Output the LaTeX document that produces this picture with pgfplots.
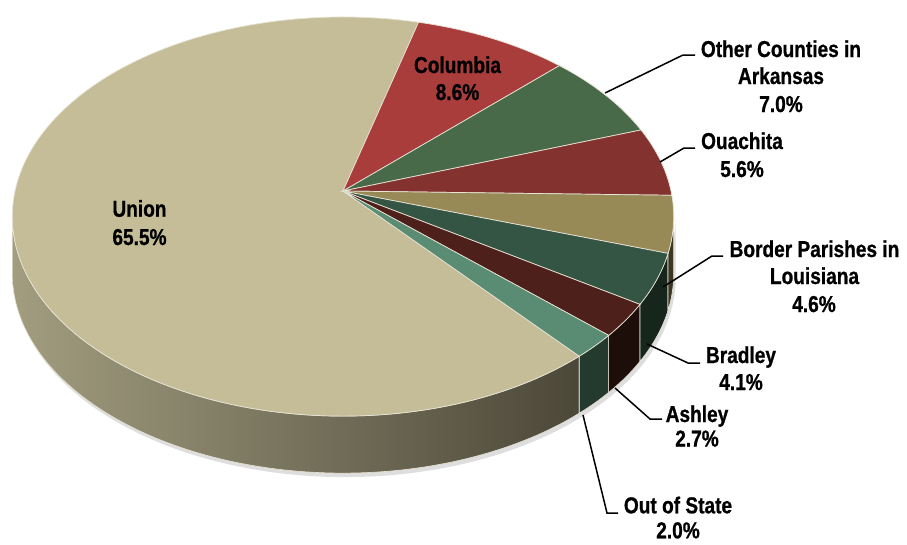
\documentclass[border=0pt]{standalone}
\usepackage{pgfplots}
\pgfplotsset{compat=1.18}
\usepackage{pgfplotstable}
\usepackage{fontspec}
\setmainfont{Liberation Sans}
\newfontfamily\lblfont{Liberation Sans}[FakeStretch=0.83, BoldFeatures={FakeBold=0.8}]
\newcommand\lbl{\lblfont\bfseries\fontsize{23}{28}\selectfont}

\definecolor{cUnion}{RGB}{197,189,152}
\definecolor{cColumbia}{RGB}{169,61,60}
\definecolor{cOther}{RGB}{72,106,72}
\definecolor{cOuachita}{RGB}{131,50,48}
\definecolor{cBorder}{RGB}{152,138,87}
\definecolor{cBradley}{RGB}{52,84,68}
\definecolor{cAshley}{RGB}{78,32,27}
\definecolor{cOoS}{RGB}{90,140,115}
\definecolor{sBorder}{RGB}{58,54,34}
\definecolor{sBradley}{RGB}{22,38,29}
\definecolor{sAshley}{RGB}{30,14,10}
\definecolor{sOoS}{RGB}{37,58,46}
\definecolor{sUnionL}{RGB}{162,157,127}
\definecolor{sUnionR}{RGB}{76,72,57}
\definecolor{edge}{RGB}{232,228,214}

% slice values (percent), clockwise from the top
\pgfplotstableread{
name value
Columbia 8.6
Other 7.0
Ouachita 5.6
Border 4.6
Bradley 4.1
Ashley 2.7
OutOfState 2.0
Union 65.5
}\piedata

\newcommand\getval[2]{\pgfplotstablegetelem{#1}{value}\of\piedata\let#2\pgfplotsretval}
\getval{0}\vA \getval{1}\vB \getval{2}\vC \getval{3}\vD
\getval{4}\vE \getval{5}\vF \getval{6}\vG \getval{7}\vH
\pgfmathsetmacro\tot{\vA+\vB+\vC+\vD+\vE+\vF+\vG+\vH}
\pgfmathsetmacro\sc{360/\tot}
\pgfmathsetmacro\tA{75}
\pgfmathsetmacro\tB{\tA-\vA*\sc}
\pgfmathsetmacro\tC{\tB-\vB*\sc}
\pgfmathsetmacro\tD{\tC-\vC*\sc}
\pgfmathsetmacro\tE{\tD-\vD*\sc}
\pgfmathsetmacro\tF{\tE-\vE*\sc}
\pgfmathsetmacro\tG{\tF-\vF*\sc}
\pgfmathsetmacro\tH{\tG-\vG*\sc}
\pgfmathsetmacro\tI{\tH-\vH*\sc}
\pgfmathsetmacro\vis{asin(0.128)}
\pgfmathsetmacro\visR{-\vis}
\pgfmathsetmacro\visL{-180+\vis}

\begin{document}
\begin{tikzpicture}
\begin{axis}[width=907pt, height=544pt, scale only axis,
  xmin=0, xmax=907, ymin=0, ymax=544, y dir=reverse,
  hide axis, clip=false,
  declare function={
    PX(\t)=343+328*cos(\t)/(1+0.128*sin(\t));
    PY(\t)=191-196.3*sin(\t)/(1+0.128*sin(\t));
    th(\t,\a,\b)=ifthenelse(\t<150, \a+(\b-\a)*\t/100, \b-(\b-\a)*(\t-200)/100);
    off(\t)=ifthenelse(\t<150, 0, 57);
    offS(\t)=ifthenelse(\t<150, 0, 61);
  }]
\path (0,0) rectangle (907,544);

% soft shadow
\addplot[draw=none, fill=black, opacity=0.13, samples at={0,1,...,100,200,201,...,300}]
  ({PX(th(x,\visL,\visR))+2},{PY(th(x,\visL,\visR))+offS(x)}) -- cycle;

% side walls
\addplot[draw=edge, line width=0.6pt, left color=sUnionL, right color=sUnionR,
  samples at={0,1,...,100,200,201,...,300}]
  ({PX(th(x,\visL,\tH))},{PY(th(x,\visL,\tH))+off(x)}) -- cycle;
\addplot[draw=edge, line width=0.6pt, fill=sOoS, samples at={0,2,...,100,200,202,...,300}]
  ({PX(th(x,\tH,\tG))},{PY(th(x,\tH,\tG))+off(x)}) -- cycle;
\addplot[draw=edge, line width=0.6pt, fill=sAshley, samples at={0,2,...,100,200,202,...,300}]
  ({PX(th(x,\tG,\tF))},{PY(th(x,\tG,\tF))+off(x)}) -- cycle;
\addplot[draw=edge, line width=0.6pt, fill=sBradley, samples at={0,2,...,100,200,202,...,300}]
  ({PX(th(x,\tF,\tE))},{PY(th(x,\tF,\tE))+off(x)}) -- cycle;
\addplot[draw=edge, line width=0.6pt, fill=sBorder, samples at={0,2,...,100,200,202,...,300}]
  ({PX(th(x,\tE,\visR))},{PY(th(x,\tE,\visR))+off(x)}) -- cycle;

% top faces
\addplot[fill=cUnion, draw=edge, line width=0.7pt, domain=\tI:\tH, samples=240] ({PX(x)},{PY(x)}) -- (343,191) -- cycle;
\addplot[fill=cColumbia, draw=edge, line width=0.7pt, domain=\tB:\tA, samples=60] ({PX(x)},{PY(x)}) -- (343,191) -- cycle;
\addplot[fill=cOther, draw=edge, line width=0.7pt, domain=\tC:\tB, samples=60] ({PX(x)},{PY(x)}) -- (343,191) -- cycle;
\addplot[fill=cOuachita, draw=edge, line width=0.7pt, domain=\tD:\tC, samples=60] ({PX(x)},{PY(x)}) -- (343,191) -- cycle;
\addplot[fill=cBorder, draw=edge, line width=0.7pt, domain=\tE:\tD, samples=60] ({PX(x)},{PY(x)}) -- (343,191) -- cycle;
\addplot[fill=cBradley, draw=edge, line width=0.7pt, domain=\tF:\tE, samples=60] ({PX(x)},{PY(x)}) -- (343,191) -- cycle;
\addplot[fill=cAshley, draw=edge, line width=0.7pt, domain=\tG:\tF, samples=60] ({PX(x)},{PY(x)}) -- (343,191) -- cycle;
\addplot[fill=cOoS, draw=edge, line width=0.7pt, domain=\tH:\tG, samples=60] ({PX(x)},{PY(x)}) -- (343,191) -- cycle;

% leader lines
\draw[line width=1.5pt] (605,93) -- (683,55) -- (695,55);
\draw[line width=1.5pt] (660,162) -- (684,148) -- (695,148);
\draw[line width=1.5pt] (663,287) -- (712,256) -- (723,256);
\draw[line width=1.5pt] (647,344) -- (688,363) -- (700,363);
\draw[line width=1.5pt] (615,388) -- (650,419) -- (662,419);
\draw[line width=1.5pt] (583,415) -- (607,513) -- (618,513);

% labels
\node[anchor=base, font=\lbl, inner sep=0pt] at (139.5,216.7) {Union};
\node[anchor=base, font=\lbl, inner sep=0pt] at (139.5,245) {65.5\%};
\node[anchor=base, font=\lbl, inner sep=0pt] at (457.5,73) {Columbia};
\node[anchor=base, font=\lbl, inner sep=0pt] at (457.5,100) {8.6\%};
\node[anchor=base, font=\lbl, inner sep=0pt] at (781,57) {Other Counties in};
\node[anchor=base, font=\lbl, inner sep=0pt] at (781,84) {Arkansas};
\node[anchor=base, font=\lbl, inner sep=0pt] at (781,112) {7.0\%};
\node[anchor=base, font=\lbl, inner sep=0pt] at (742,149) {Ouachita};
\node[anchor=base, font=\lbl, inner sep=0pt] at (742,177) {5.6\%};
\node[anchor=base, font=\lbl, inner sep=0pt] at (814.5,257) {Border Parishes in};
\node[anchor=base, font=\lbl, inner sep=0pt] at (814.5,284) {Louisiana};
\node[anchor=base, font=\lbl, inner sep=0pt] at (814,312) {4.6\%};
\node[anchor=base, font=\lbl, inner sep=0pt] at (741,363) {Bradley};
\node[anchor=base, font=\lbl, inner sep=0pt] at (741,390) {4.1\%};
\node[anchor=base, font=\lbl, inner sep=0pt] at (697,422) {Ashley};
\node[anchor=base, font=\lbl, inner sep=0pt] at (697,446.5) {2.7\%};
\node[anchor=base, font=\lbl, inner sep=0pt] at (678,513.3) {Out of State};
\node[anchor=base, font=\lbl, inner sep=0pt] at (678,538.3) {2.0\%};
\end{axis}
\end{tikzpicture}
\end{document}
